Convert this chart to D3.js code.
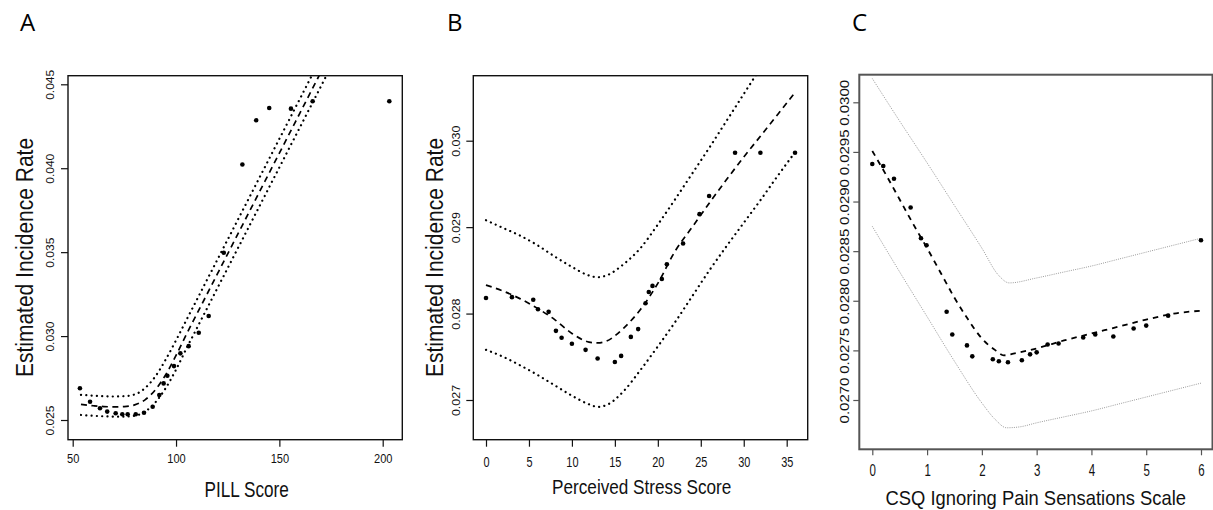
<!DOCTYPE html>
<html><head><meta charset="utf-8">
<script src="https://cdn.jsdelivr.net/npm/d3@7"></script>
<style>
body{margin:0;background:#fff;}
text{font-family:"Liberation Sans",Arial,sans-serif;fill:#111;}
</style></head>
<body><svg id="c" width="1213" height="510"></svg>
<script>
// ---------- Panel A: PILL Score ----------
const pillX = [53.5,58.4,63.2,66.7,70.8,74.0,76.6,80.5,84.5,88.7,91.9,94.0,95.8,99.0,102.1,106.1,111.0,115.8,123.1,132.1,138.8,145.1,155.6,166.1,203.2];
const pillY = [0.02689,0.02609,0.0257,0.0255,0.0254,0.02534,0.02534,0.02534,0.02543,0.02579,0.02649,0.02718,0.02764,0.02821,0.02897,0.0294,0.0302,0.0312,0.03496,0.04022,0.04286,0.04359,0.04355,0.04399,0.04399];
const pillCurveX = [54,60,65,70,75,80,85,90,95,100,105,110,115,120,130,140,150,160,170,175];
const pillFit   = [0.02593,0.02585,0.02580,0.02578,0.02580,0.02590,0.02620,0.02680,0.02770,0.02885,0.03010,0.03130,0.03250,0.03370,0.03610,0.03850,0.04090,0.04330,0.04570,0.04690];
const pillUpper = [0.02650,0.02645,0.02642,0.02640,0.02642,0.02652,0.02690,0.02760,0.02860,0.02975,0.03095,0.03215,0.03335,0.03455,0.03695,0.03935,0.04175,0.04415,0.04655,0.04775];
const pillLower = [0.02530,0.02525,0.02522,0.02520,0.02520,0.02525,0.02550,0.02605,0.02690,0.02800,0.02925,0.03045,0.03165,0.03285,0.03525,0.03765,0.04005,0.04245,0.04485,0.04605];
const pillXTicks = [50,100,150,200];
const pillYTicks = [0.025,0.030,0.035,0.040,0.045];
const pillYLabels = ["0.025","0.030","0.035","0.040","0.045"];

// ---------- Panel B: Perceived Stress Score ----------
const pssX = [0,3.02,5.5,6.05,7.29,8.14,8.8,10.0,11.59,12.99,15.0,15.73,16.86,17.71,18.57,18.95,19.38,20.47,21.05,22.94,24.85,25.97,28.99,31.94,35.97];
const pssY = [0.02818,0.02819,0.02816,0.02805,0.02802,0.0278,0.02772,0.02765,0.02758,0.02748,0.02744,0.02751,0.02773,0.02782,0.02812,0.02825,0.02832,0.0284,0.02857,0.02881,0.02915,0.02936,0.02986,0.02986,0.02986];
const pssCurveX = [0,2,4,6,8,10,12,13,14,16,18,20,22,24,26,28,30,32,34,36];
const pssFit   = [0.02833,0.02826,0.02817,0.02806,0.02793,0.02777,0.02767,0.02766,0.02768,0.02783,0.02805,0.02835,0.02872,0.02900,0.02928,0.02955,0.02981,0.03006,0.03031,0.03056];
const pssUpper = [0.02908,0.02899,0.02890,0.02879,0.02866,0.02854,0.02844,0.02842,0.02844,0.02857,0.02876,0.02903,0.02932,0.02962,0.02992,0.03023,0.03054,0.03085,0.03116,0.03147];
const pssLower = [0.02758,0.02750,0.02740,0.02729,0.02717,0.02705,0.02695,0.02692,0.02694,0.02710,0.02735,0.02762,0.02790,0.02820,0.02850,0.02878,0.02905,0.02932,0.02960,0.02987];
const pssXTicks = [0,5,10,15,20,25,30,35];
const pssYTicks = [0.027,0.028,0.029,0.030];
const pssYLabels = ["0.027","0.028","0.029","0.030"];

// ---------- Panel C: CSQ Ignoring Pain Sensations ----------
const csqX = [0,0.2,0.396,0.70,0.889,0.99,1.357,1.46,1.728,1.825,2.2,2.31,2.476,2.73,2.88,3.0,3.2,3.40,3.85,4.07,4.40,4.77,5.0,5.40,6.0];
const csqY = [0.029378,0.029358,0.02923,0.02894,0.02863,0.02856,0.02789,0.02766,0.02755,0.02744,0.02741,0.02739,0.02738,0.0274,0.02746,0.02748,0.02756,0.02757,0.02763,0.02766,0.02764,0.02772,0.02775,0.02785,0.02861];
const csqFitX = [0,0.25,0.5,0.75,1.0,1.25,1.5,1.75,2.0,2.25,2.4,2.6,3.0,3.5,4.0,4.5,5.0,5.5,6.0];
const csqFit  = [0.02951,0.02927,0.02902,0.02877,0.02853,0.02828,0.02803,0.02781,0.02762,0.02750,0.02745,0.02747,0.02752,0.02760,0.02767,0.02774,0.02781,0.02787,0.02790];
const csqUpperX = [0,0.5,1.0,1.5,2.0,2.3,2.5,3.0,3.5,4.0,4.5,5.0,5.5,6.0];
const csqUpper  = [0.03024,0.02981,0.02939,0.02896,0.02853,0.02826,0.02818,0.02823,0.02829,0.02835,0.02842,0.02849,0.02856,0.02863];
const csqLowerX = [0,0.5,1.0,1.5,2.0,2.25,2.45,2.7,3.0,3.5,4.0,4.5,5.0,5.5,6.0];
const csqLower  = [0.02875,0.02829,0.02784,0.02739,0.02697,0.02680,0.02672,0.02673,0.02677,0.02683,0.02689,0.02696,0.02703,0.02710,0.02717];
const csqXTicks = [0,1,2,3,4,5,6];
const csqYTicks = [0.0270,0.0275,0.0280,0.0285,0.0290,0.0295,0.0300];
const csqYLabels = ["0.0270","0.0275","0.0280","0.0285","0.0290","0.0295","0.0300"];

const svg = d3.select("#c");
svg.append("rect").attr("width",1213).attr("height",510).attr("fill","#fff");

function label(g, x, y, s, size, a, b, rot, anchor){
  return g.append("text")
    .attr("transform",`translate(${x},${y}) rotate(${rot||0}) scale(${a},${b})`)
    .attr("text-anchor",anchor||"middle")
    .style("font-size",size+"px").text(s);
}

function panel(cfg){
  const g = svg.append("g");
  const x = d3.scaleLinear().domain(cfg.xd).range(cfg.xr);
  const y = d3.scaleLinear().domain(cfg.yd).range(cfg.yr);
  const f = cfg.frame;
  const id = "clip"+cfg.name;
  svg.append("clipPath").attr("id",id).append("rect")
    .attr("x",f[0]).attr("y",f[1]).attr("width",f[2]-f[0]).attr("height",f[3]-f[1]);
  const plot = g.append("g").attr("clip-path",`url(#${id})`);
  const line = d3.line().curve(d3.curveMonotoneX);
  function path(xs, ys, style){
    plot.append("path").datum(xs.map((v,i)=>[x(v),y(ys[i])]))
      .attr("d",line).attr("fill","none")
      .attr("stroke",style.c).attr("stroke-width",style.w)
      .attr("stroke-dasharray",style.d).attr("stroke-linecap",style.cap||"butt");
  }
  cfg.bands.forEach(b=>path(b[0],b[1],cfg.bandStyle));
  path(cfg.fit[0],cfg.fit[1],cfg.fitStyle);
  plot.selectAll("circle.pt").data(cfg.px.map((v,i)=>[v,cfg.py[i]])).join("circle")
    .attr("cx",d=>x(d[0])).attr("cy",d=>y(d[1])).attr("r",cfg.r).attr("fill","#000");
  // frame
  g.append("rect").attr("x",f[0]).attr("y",f[1]).attr("width",f[2]-f[0]).attr("height",f[3]-f[1])
    .attr("fill","none").attr("stroke",cfg.frameColor).attr("stroke-width",cfg.frameW);
  // x axis
  const xa = g.append("g").attr("transform",`translate(0,${f[3]})`)
    .call(d3.axisBottom(x).tickValues(cfg.xt).tickSize(cfg.tick).tickFormat(d3.format("d")));
  xa.select(".domain").remove();
  xa.selectAll("line").attr("stroke",cfg.frameColor).attr("stroke-width",1.2);
  xa.selectAll("text").attr("y",null).attr("dy",null)
    .attr("transform",`translate(0,${cfg.xlOff}) scale(${cfg.xlA},1)`)
    .style("font-size",cfg.xlSize+"px").style("fill","#111");
  // y axis
  const ya = g.append("g").attr("transform",`translate(${f[0]},0)`)
    .call(d3.axisLeft(y).tickValues(cfg.yt).tickSize(cfg.tick).tickFormat((d,i)=>cfg.yl[i]));
  ya.select(".domain").remove();
  ya.selectAll("line").attr("stroke",cfg.frameColor).attr("stroke-width",1.2);
  ya.selectAll("text").attr("x",null).attr("dy",null).attr("text-anchor","middle")
    .attr("transform",`translate(${-cfg.ylOff},0) rotate(-90) scale(1,${cfg.ylB})`)
    .style("font-size",cfg.ylSize+"px").style("fill","#111");
  return g;
}

const dotted = {c:"#000",w:2.2,d:"0.1 5.2",cap:"round"};
const dashed = {c:"#000",w:1.7,d:"6 4.5"};

const gA = panel({name:"A", xd:[50,200], xr:[72.7,382.7], yd:[0.025,0.045], yr:[420,84.3],
  frame:[68,75.7,402.3,439.7], frameColor:"#111", frameW:1.4, tick:7,
  xt:pillXTicks, yt:pillYTicks, yl:pillYLabels,
  xlOff:23, xlA:0.82, xlSize:13.5, ylOff:14, ylB:0.9, ylSize:12,
  bands:[[pillCurveX,pillUpper],[pillCurveX,pillLower]], fit:[pillCurveX,pillFit],
  bandStyle:dotted, fitStyle:dashed, px:pillX, py:pillY, r:2.3});
label(gA,246.7,497,"PILL Score",22,0.78,1);
label(gA,32.5,257.5,"Estimated Incidence Rate",21,1,1.1,-90);

const gB = panel({name:"B", xd:[0,35], xr:[486,786.7], yd:[0.027,0.030], yr:[400,140.7],
  frame:[473.3,75.7,807.7,439.7], frameColor:"#111", frameW:1.4, tick:7,
  xt:pssXTicks, yt:pssYTicks, yl:pssYLabels,
  xlOff:27, xlA:0.78, xlSize:14, ylOff:13.5, ylB:0.9, ylSize:12.5,
  bands:[[pssCurveX,pssUpper],[pssCurveX,pssLower]], fit:[pssCurveX,pssFit],
  bandStyle:dotted, fitStyle:dashed, px:pssX, py:pssY, r:2.3});
label(gB,641.7,493.5,"Perceived Stress Score",19.5,0.88,1);
label(gB,443.3,257.5,"Estimated Incidence Rate",21,1,1.1,-90);

const gC = panel({name:"C", xd:[0,6], xr:[872.3,1201], yd:[0.027,0.030], yr:[400,102.3],
  frame:[859.3,74.7,1212.5,449.3], frameColor:"#555", frameW:2, tick:6,
  xt:csqXTicks, yt:csqYTicks, yl:csqYLabels,
  xlOff:27, xlA:0.72, xlSize:16, ylOff:10, ylB:0.85, ylSize:15,
  bands:[[csqUpperX,csqUpper],[csqLowerX,csqLower]], fit:[csqFitX,csqFit],
  bandStyle:{c:"#9a9a9a",w:1,d:"1 1.2"}, fitStyle:{c:"#000",w:1.8,d:"5.5 5"}, px:csqX, py:csqY, r:2.3});
label(gC,1035.7,504.5,"CSQ Ignoring Pain Sensations Scale",20,0.92,1);

// panel letters
[["A",20],["B",447],["C",852]].forEach(p=>{
  svg.append("text").attr("x",p[1]).attr("y",31).style("font-family","'Open Sans','Noto Sans',sans-serif")
    .style("font-size","24px").style("fill","#000").text(p[0]);
});
</script></body></html>
